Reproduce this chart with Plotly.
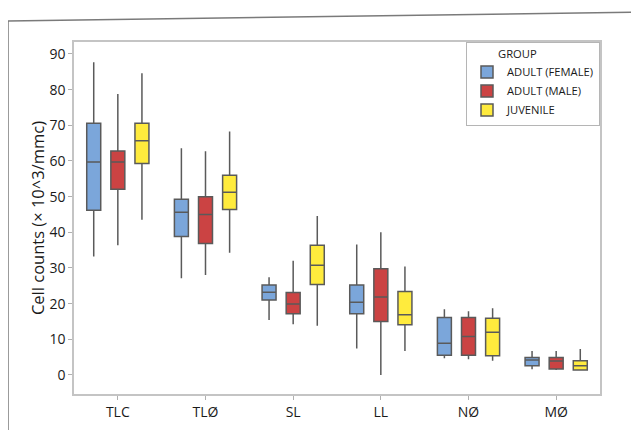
import plotly.graph_objects as go

categories = ["TLC", "TLØ", "SL", "LL", "NØ", "MØ"]
groups = ["ADULT (FEMALE)", "ADULT (MALE)", "JUVENILE"]

# per group: lower whisker, Q1, median, Q3, upper whisker
female_low = [33.2, 27.1, 15.4, 7.4, 4.7, 1.6]
female_q1 = [46.2, 38.8, 21.0, 17.2, 5.5, 2.6]
female_med = [59.7, 45.6, 23.2, 20.4, 8.9, 4.2]
female_q3 = [70.6, 49.3, 25.2, 25.2, 16.1, 4.9]
female_high = [87.7, 63.6, 27.4, 36.6, 18.4, 6.7]

male_low = [36.4, 28.0, 14.2, 0.0, 4.4, 1.4]
male_q1 = [52.1, 36.9, 17.2, 15.0, 5.5, 1.7]
male_med = [59.7, 45.0, 19.9, 21.9, 10.8, 3.9]
male_q3 = [62.8, 50.0, 23.1, 29.8, 16.1, 4.9]
male_high = [78.8, 62.7, 32.0, 40.0, 17.9, 6.7]

juv_low = [43.5, 34.3, 13.8, 6.7, 4.0, 1.2]
juv_q1 = [59.3, 46.4, 25.4, 14.1, 5.4, 1.4]
juv_med = [65.7, 51.2, 30.8, 16.9, 12.0, 2.6]
juv_q3 = [70.6, 56.0, 36.4, 23.4, 15.9, 4.0]
juv_high = [84.6, 68.3, 44.6, 30.4, 18.7, 7.3]

y_ticks = [0, 10, 20, 30, 40, 50, 60, 70, 80, 90]

colors = ["#7BA6DA", "#CB4343", "#FFEB3D"]

series = [
    (female_low, female_q1, female_med, female_q3, female_high),
    (male_low, male_q1, male_med, male_q3, male_high),
    (juv_low, juv_q1, juv_med, juv_q3, juv_high),
]

fig = go.Figure()
for name, col, (lo, q1, md, q3, hi) in zip(groups, colors, series):
    fig.add_trace(go.Box(
        name=name,
        x=categories,
        lowerfence=lo, q1=q1, median=md, q3=q3, upperfence=hi,
        fillcolor=col,
        line=dict(color="#5a5a5a", width=1.5),
        whiskerwidth=0,
        boxpoints=False,
        hoverinfo="skip",
    ))

font_family = "Open Sans, Noto Sans, DejaVu Sans, sans-serif"

# the page body adds an 8px offset; margins below compensate for it
fig.update_layout(
    width=639, height=430,
    margin=dict(l=66, r=47, t=34, b=44, autoexpand=False),
    paper_bgcolor="white",
    plot_bgcolor="white",
    boxmode="group",
    boxgap=0.175,
    boxgroupgap=0.42,
    font=dict(family=font_family, color="#1a1a1a", size=13),
    showlegend=True,
    legend=dict(
        x=1, y=1, xanchor="right", yanchor="top",
        bgcolor="white", bordercolor="#b5b5b5", borderwidth=1,
        font=dict(size=11.2, color="#1a1a1a"),
        title=dict(text="&nbsp;&nbsp;&nbsp;&nbsp;&nbsp;&nbsp;&nbsp;&nbsp;&nbsp;&nbsp;GROUP", font=dict(size=11.2)),
        tracegroupgap=0,
        itemwidth=30,
    ),
    xaxis=dict(
        type="category",
        categoryorder="array", categoryarray=categories,
        range=[-0.5, 5.5],
        showgrid=False, zeroline=False,
        showline=True, mirror=True, linecolor="#c4c4c4", linewidth=1.5,
        ticks="outside", ticklen=4, tickcolor="#b0b0b0",
        tickfont=dict(size=14, color="#1a1a1a"),
        automargin=False,
        fixedrange=True,
    ),
    yaxis=dict(
        range=[-5.33, 93.36],
        tickvals=y_ticks,
        showgrid=False, zeroline=False,
        showline=True, mirror=True, linecolor="#c4c4c4", linewidth=1.5,
        ticks="outside", ticklen=4, tickcolor="#b0b0b0",
        tickfont=dict(size=14, color="#1a1a1a"),
        title=dict(text="Cell counts (× 10^3/mmc)", font=dict(size=16.5, color="#1a1a1a"), standoff=1),
        automargin=False,
        fixedrange=True,
    ),
)

# outer frame (slightly tilted in the scan)
pw = 639 - 66 - 47
ph = 430 - 34 - 44
fx0 = (0 - 66) / pw
fy_left = (430 - 44 - 13) / ph
fy_right = (430 - 44 - 4) / ph
fig.add_shape(type="line", xref="paper", yref="paper",
              x0=fx0, y0=-0.2, x1=fx0, y1=fy_left,
              line=dict(color="#7a7a7a", width=1.5))
fig.add_shape(type="line", xref="paper", yref="paper",
              x0=fx0, y0=fy_left, x1=(640 - 66) / pw, y1=fy_right,
              line=dict(color="#7a7a7a", width=1.5))

fig.write_html("out.html")
